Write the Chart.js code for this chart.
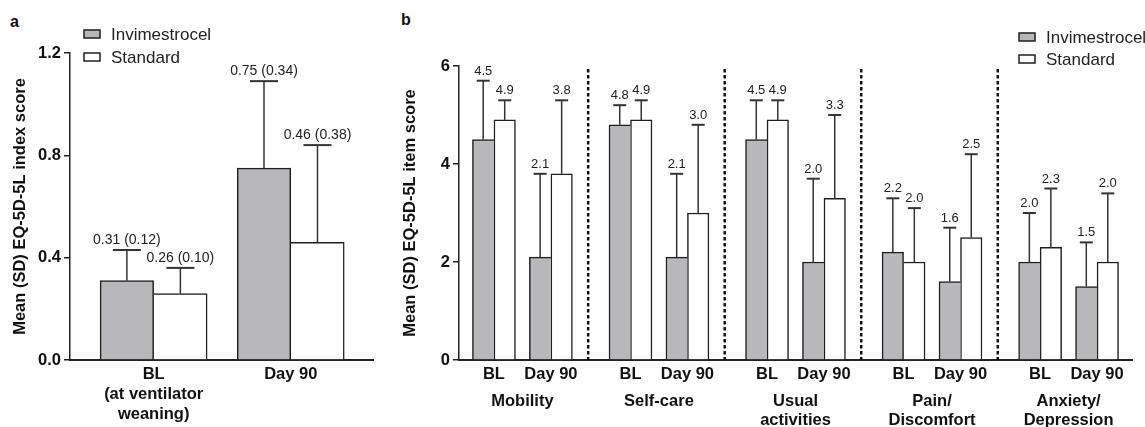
<!DOCTYPE html>
<html>
<head>
<meta charset="utf-8">
<script src="https://cdn.jsdelivr.net/npm/chart.js@4.4.1/dist/chart.umd.min.js"></script>
<style>
	html, body { margin: 0; padding: 0; background: #fff; }
	body { width: 1145px; height: 427px; position: relative; overflow: hidden; font-family: "Liberation Sans", Arial, Helvetica, sans-serif; }
	.panel { position: absolute; top: 0; height: 427px; }
	#wrapA { left: 0; width: 385px; }
	#wrapB { left: 385px; width: 760px; }
	.tag { position: absolute; font-weight: bold; font-size: 16px; color: #111; line-height: 1; }
</style>
</head>
<body>
<div class="tag" style="left:10px;top:14px">a</div>
<div class="tag" style="left:401px;top:12px">b</div>
<div class="panel" id="wrapA"><canvas id="chartA" width="385" height="427"></canvas></div>
<div class="panel" id="wrapB"><canvas id="chartB" width="760" height="427"></canvas></div>
<script>
const SERIES = ['Invimestrocel', 'Standard'];

// panel a - EQ-5D-5L index score, mean and SD
const timepointsA = [['BL', '(at ventilator', 'weaning)'], 'Day 90'];
const indexMeanInv = [0.31, 0.75];
const indexSdInv = [0.12, 0.34];
const indexMeanStd = [0.26, 0.46];
const indexSdStd = [0.10, 0.38];
const indexTicks = [0, 0.4, 0.8, 1.2];

// panel b - EQ-5D-5L item scores, mean and SD per domain
const domains = [['Mobility'], ['Self-care'], ['Usual', 'activities'], ['Pain/', 'Discomfort'], ['Anxiety/', 'Depression']];
const timepointsB = ['BL', 'Day 90'];
const itemBlInv = [4.5, 4.8, 4.5, 2.2, 2.0];
const itemBlInvSd = [1.2, 0.4, 0.8, 1.1, 1.0];
const itemD90Inv = [2.1, 2.1, 2.0, 1.6, 1.5];
const itemD90InvSd = [1.7, 1.7, 1.7, 1.1, 0.9];
const itemBlStd = [4.9, 4.9, 4.9, 2.0, 2.3];
const itemBlStdSd = [0.4, 0.4, 0.4, 1.1, 1.2];
const itemD90Std = [3.8, 3.0, 3.3, 2.5, 2.0];
const itemD90StdSd = [1.5, 1.8, 1.7, 1.7, 1.4];
const itemTicks = [0, 2, 4, 6];

// look
const FILL_INV = '#b8b8ba';
const FILL_STD = '#ffffff';
const INK = '#1f1f1f';
const BAR_LINE = 1.5;
const FONT = '"Liberation Sans", Arial, Helvetica, sans-serif';
const TIME_GAP = 0.417; // BL -> Day 90 distance within a domain (1 = domain step)

Chart.defaults.font.family = FONT;
Chart.defaults.color = '#111';

const valueOf = (d) => (d !== null && typeof d === 'object' ? d.y : d);

// the taller of two touching bars keeps the shared edge
function edgeBorders(ctx) {
	const ds = ctx.chart.data.datasets;
	const i = ctx.dataIndex;
	const di = ctx.datasetIndex;
	const own = valueOf(ds[di].data[i]);
	const other = valueOf(ds[1 - di].data[i]);
	const w = BAR_LINE;
	if (di === 0) return { top: w, left: w, right: own >= other ? w : 0, bottom: 0 };
	return { top: w, right: w, left: own > other ? w : 0, bottom: 0 };
}

function errorBarPlugin(cfg) {
	return {
		id: 'errorBars',
		afterDatasetsDraw(chart) {
			const { ctx } = chart;
			const yScale = chart.scales.y;
			ctx.save();
			chart.data.datasets.forEach((ds, di) => {
				const meta = chart.getDatasetMeta(di);
				meta.data.forEach((bar, i) => {
					const mean = valueOf(ds.data[i]);
					const sd = ds.errors[i];
					const yTop = yScale.getPixelForValue(mean + sd);
					ctx.strokeStyle = '#333';
					ctx.lineWidth = 1.5;
					ctx.beginPath();
					ctx.moveTo(bar.x, bar.y);
					ctx.lineTo(bar.x, yTop);
					ctx.stroke();
					ctx.lineWidth = 2;
					ctx.beginPath();
					ctx.moveTo(bar.x - cfg.cap, yTop);
					ctx.lineTo(bar.x + cfg.cap, yTop);
					ctx.stroke();

					const text = cfg.withSd
						? `${mean.toFixed(cfg.decimals)} (${sd.toFixed(cfg.decimals)})`
						: mean.toFixed(cfg.decimals);
					ctx.fillStyle = '#222';
					ctx.font = `${cfg.fontSize}px ${FONT}`;
					ctx.textAlign = 'center';
					ctx.textBaseline = 'alphabetic';
					ctx.fillText(text, bar.x, yTop - 6);
				});
			});
			ctx.restore();
		},
	};
}

function legendPlugin(cfg) {
	return {
		id: 'boxLegend',
		afterDraw(chart) {
			const { ctx } = chart;
			ctx.save();
			chart.data.datasets.forEach((ds, k) => {
				const cy = cfg.y + k * cfg.step;
				ctx.fillStyle = ds.backgroundColor;
				ctx.fillRect(cfg.x, cy - 4, 16, 8);
				ctx.strokeStyle = INK;
				ctx.lineWidth = 1.5;
				ctx.strokeRect(cfg.x, cy - 4, 16, 8);
				ctx.fillStyle = '#222';
				ctx.font = `17px ${FONT}`;
				ctx.textAlign = 'left';
				ctx.textBaseline = 'middle';
				ctx.fillText(ds.label, cfg.x + 27, cy + 1);
			});
			ctx.restore();
		},
	};
}

// dotted separators + domain names for panel b
const domainPlugin = {
	id: 'domains',
	beforeDatasetsDraw(chart) {
		const { ctx, chartArea } = chart;
		const xScale = chart.scales.x;
		ctx.save();
		ctx.strokeStyle = '#111';
		ctx.lineWidth = 2.5;
		ctx.setLineDash([3.5, 2.5]);
		for (let g = 0; g < domains.length - 1; g++) {
			const px = xScale.getPixelForValue(g + 0.69);
			ctx.beginPath();
			ctx.moveTo(px, chartArea.top + 3);
			ctx.lineTo(px, chartArea.bottom);
			ctx.stroke();
		}
		ctx.restore();
	},
	afterDraw(chart) {
		const { ctx, chartArea } = chart;
		const xScale = chart.scales.x;
		ctx.save();
		ctx.fillStyle = '#111';
		ctx.font = `bold 16.5px ${FONT}`;
		ctx.textAlign = 'center';
		ctx.textBaseline = 'middle';
		domains.forEach((lines, g) => {
			const px = xScale.getPixelForValue(g + TIME_GAP / 2);
			lines.forEach((line, k) => {
				ctx.fillText(line, px, chartArea.bottom + 41 + k * 19);
			});
		});
		ctx.restore();
	},
};

function fixedTicks(values) {
	return (scale) => {
		scale.ticks = values.map((value) => ({ value }));
	};
}

function yAxis(ticks, max, width, titleText, titlePad, fmt) {
	return {
		type: 'linear',
		min: 0,
		max,
		afterBuildTicks: fixedTicks(ticks),
		afterFit: (s) => {
			s.width = width;
			s.paddingTop = 0;
			s.paddingBottom = 0;
		},
		grid: { display: true, drawOnChartArea: false, drawTicks: true, tickLength: 6, color: '#222', lineWidth: 1.5 },
		border: { display: true, color: '#222', width: 1.5 },
		ticks: {
			padding: 3,
			color: '#111',
			font: { size: 16.5, weight: 'bold' },
			callback: fmt,
		},
		title: {
			display: true,
			text: titleText,
			color: '#111',
			font: { size: 16.5, weight: 'bold' },
			padding: { top: titlePad, bottom: 0 },
		},
	};
}

function xAxis(min, max, positions, labels) {
	return {
		type: 'linear',
		min,
		max,
		offset: false,
		afterBuildTicks: fixedTicks(positions),
		afterFit: (s) => {
			s.height = 66;
			s.paddingLeft = 0;
			s.paddingRight = 0;
		},
		grid: { display: false, drawTicks: false },
		border: { display: true, color: '#222', width: 2 },
		ticks: {
			autoSkip: false,
			maxRotation: 0,
			minRotation: 0,
			padding: 5,
			color: '#111',
			font: { size: 16.5, weight: 'bold', lineHeight: 1.2 },
			callback: (value, index) => labels[index],
		},
	};
}

// ---- panel a ----
const xA = timepointsA.map((t, i) => i);
new Chart(document.getElementById('chartA'), {
	type: 'bar',
	data: {
		datasets: [
			{
				label: SERIES[0],
				data: indexMeanInv.map((y, i) => ({ x: xA[i], y })),
				errors: indexSdInv,
				backgroundColor: FILL_INV,
				borderColor: INK,
				borderWidth: edgeBorders,
				barThickness: 53.5,
			},
			{
				label: SERIES[1],
				data: indexMeanStd.map((y, i) => ({ x: xA[i], y })),
				errors: indexSdStd,
				backgroundColor: FILL_STD,
				borderColor: INK,
				borderWidth: edgeBorders,
				barThickness: 53.5,
			},
		],
	},
	options: {
		responsive: false,
		animation: false,
		events: [],
		layout: { padding: { left: 0, top: 53, right: 12, bottom: 1 } },
		plugins: { legend: { display: false }, tooltip: { enabled: false } },
		scales: {
			x: xAxis(-0.61, 1.6, xA, timepointsA),
			y: yAxis(indexTicks, 1.2, 70, 'Mean (SD) EQ-5D-5L index score', 11, (v) => Number(v).toFixed(1)),
		},
	},
	plugins: [
		errorBarPlugin({ cap: 14, decimals: 2, withSd: true, fontSize: 14 }),
		legendPlugin({ x: 84, y: 34, step: 23 }),
	],
});

// ---- panel b ----
const interleave = (bl, d90) => bl.flatMap((v, g) => [v, d90[g]]);
const xB = domains.flatMap((d, g) => [g, g + TIME_GAP]);
const labelsB = domains.flatMap(() => timepointsB);

new Chart(document.getElementById('chartB'), {
	type: 'bar',
	data: {
		datasets: [
			{
				label: SERIES[0],
				data: interleave(itemBlInv, itemD90Inv).map((y, i) => ({ x: xB[i], y })),
				errors: interleave(itemBlInvSd, itemD90InvSd),
				backgroundColor: FILL_INV,
				borderColor: INK,
				borderWidth: edgeBorders,
				barThickness: 21.5,
			},
			{
				label: SERIES[1],
				data: interleave(itemBlStd, itemD90Std).map((y, i) => ({ x: xB[i], y })),
				errors: interleave(itemBlStdSd, itemD90StdSd),
				backgroundColor: FILL_STD,
				borderColor: INK,
				borderWidth: edgeBorders,
				barThickness: 21.5,
			},
		],
	},
	options: {
		responsive: false,
		animation: false,
		events: [],
		layout: { padding: { left: 0, top: 66, right: 13, bottom: 1 } },
		plugins: { legend: { display: false }, tooltip: { enabled: false } },
		scales: {
			x: xAxis(-0.256, 4.673, xB, labelsB),
			y: yAxis(itemTicks, 6, 74, 'Mean (SD) EQ-5D-5L item score', 16, (v) => String(v)),
		},
	},
	plugins: [
		domainPlugin,
		errorBarPlugin({ cap: 6.5, decimals: 1, withSd: false, fontSize: 13 }),
		legendPlugin({ x: 634, y: 37, step: 22 }),
	],
});
</script>
</body>
</html>
